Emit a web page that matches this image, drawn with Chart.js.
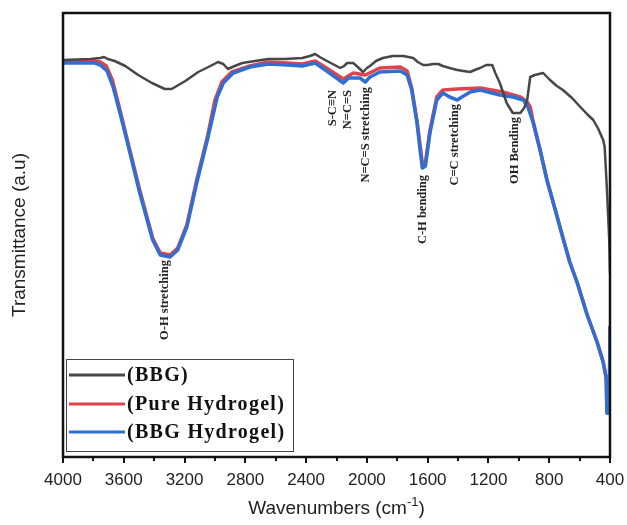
<!DOCTYPE html>
<html>
<head>
<meta charset="utf-8">
<script src="https://cdn.jsdelivr.net/npm/chart.js@4.4.1/dist/chart.umd.min.js"></script>
<style>
html, body { margin: 0; padding: 0; background: #fff; }
</style>
</head>
<body>
<canvas id="ftir" width="627" height="525"></canvas>
<script>
// FTIR spectra, values (wavenumber cm-1, transmittance a.u.)
const bbgWavenumbers = [4000, 3820, 3755, 3730, 3705, 3660, 3590, 3505, 3415, 3330, 3285, 3195, 3110, 3030, 2980, 2945, 2915, 2870, 2820, 2735, 2650, 2540, 2425, 2375, 2340, 2310, 2275, 2225, 2175, 2150, 2130, 2090, 2060, 2025, 2000, 1980, 1940, 1895, 1830, 1760, 1695, 1665, 1630, 1600, 1565, 1530, 1500, 1455, 1405, 1365, 1320, 1290, 1255, 1215, 1175, 1155, 1125, 1105, 1080, 1040, 990, 965, 945, 925, 895, 840, 795, 750, 710, 650, 595, 545, 510, 480, 445, 435, 420, 405, 400];
const bbgTransmittance = [99.25, 99.5, 99.75, 100, 99.5, 99, 97.75, 95.5, 93.5, 92, 92, 94, 96.25, 97.75, 98.75, 98.25, 97, 97.75, 98.5, 99, 99.5, 99.5, 99.75, 100.25, 100.75, 100, 99.25, 98.25, 97.25, 97.75, 98.5, 98.5, 97.5, 96.25, 97.25, 97.75, 99, 99.75, 100.25, 100.25, 99.75, 98.75, 98, 98, 98.25, 98.25, 97.75, 97.25, 96.75, 96.5, 96.25, 96.75, 97.25, 98, 98, 96, 93.5, 91.25, 88.5, 86, 86, 87.25, 89.25, 95, 95.5, 96, 94.25, 92.75, 91.75, 89.75, 87.5, 85.5, 84.25, 82.25, 79.25, 77.5, 66.75, 54.25, 46];

const pureWavenumbers = [4000, 3790, 3755, 3715, 3675, 3625, 3580, 3495, 3410, 3360, 3295, 3245, 3185, 3120, 3050, 3000, 2955, 2890, 2770, 2650, 2520, 2425, 2340, 2255, 2155, 2090, 2010, 1915, 1780, 1735, 1705, 1670, 1635, 1615, 1585, 1540, 1500, 1405, 1255, 1105, 990, 945, 925, 905, 860, 815, 760, 715, 665, 615, 550, 485, 445, 425, 420, 405, 400];
const pureTransmittance = [99, 99, 98.75, 97.75, 94.25, 86.75, 79.75, 66.75, 54.75, 51, 50.5, 52.25, 58, 69.25, 80, 89.25, 93.75, 96.25, 97.75, 98.75, 98.5, 98.25, 99, 97, 94.5, 96, 95.5, 97.25, 97.5, 96.5, 92.25, 84, 73.5, 73.5, 81.75, 90, 91.75, 92, 92.25, 91.25, 90, 88.75, 87.5, 83.75, 76.75, 69.25, 61.75, 55.5, 48.75, 43.5, 35.5, 28.75, 23.75, 19.75, 11, 11, 32.5];

const hydrogelWavenumbers = [4000, 3790, 3755, 3710, 3670, 3625, 3580, 3495, 3410, 3360, 3295, 3245, 3185, 3120, 3050, 2985, 2945, 2880, 2770, 2650, 2520, 2425, 2340, 2255, 2155, 2120, 2045, 2010, 1980, 1915, 1780, 1735, 1705, 1670, 1650, 1635, 1615, 1585, 1540, 1500, 1455, 1405, 1375, 1320, 1255, 1125, 1040, 970, 940, 905, 860, 815, 760, 715, 665, 615, 550, 485, 445, 425, 420, 405, 400];
const hydrogelTransmittance = [98.5, 98.5, 98, 96.5, 92.5, 86, 79.25, 66, 54.25, 50.5, 50, 51.75, 57.5, 68.5, 79.25, 90, 93.5, 96, 97.5, 98.25, 98, 97.75, 98.5, 96.25, 93.5, 94.75, 94.75, 93.75, 95, 96.25, 96.5, 95.5, 91.75, 83.5, 76.75, 72.25, 72.75, 81, 89.25, 91, 90, 89.25, 90, 91.25, 91.75, 90.5, 90, 89.25, 87.5, 83.5, 76.75, 69.25, 61.75, 55.5, 48.75, 43.5, 35.5, 28.75, 23.75, 19.75, 11, 11, 32.5];

const xTickValues = [4000, 3600, 3200, 2800, 2400, 2000, 1600, 1200, 800, 400];
const xMinorTickValues = [3800, 3400, 3000, 2600, 2200, 1800, 1400, 1000, 600];

const seriesNames = ['(BBG)', '(Pure Hydrogel)', '(BBG Hydrogel)'];
const seriesColors = ['#474747', '#e2434b', '#2f6fd2'];

// band assignments: label, wavenumber, transmittance where the text starts
const bandLabels = ['O-H stretching', 'S-C\u2261N', 'N=C=S', 'N=C=S stretching', 'C-H bending', 'C=C stretching', 'OH Bending'];
const bandWavenumbers = [3330, 2225, 2125, 2010, 1630, 1420, 1030];
const bandTops = [49.25, 91.75, 91.75, 92.5, 70.5, 88.25, 85];

const toPoints = (xs, ys) => xs.map((x, i) => ({ x: x, y: ys[i] }));

const decorations = {
    id: 'decorations',
    afterDraw(chart) {
        const ctx = chart.ctx;
        const area = chart.chartArea;
        const xs = chart.scales.x;
        const ys = chart.scales.y;
        ctx.save();

        // minor ticks
        ctx.strokeStyle = '#111';
        ctx.lineWidth = 2;
        xMinorTickValues.forEach(v => {
            const px = Math.round(xs.getPixelForValue(v));
            ctx.beginPath();
            ctx.moveTo(px, area.bottom);
            ctx.lineTo(px, area.bottom + 4);
            ctx.stroke();
        });

        // frame
        ctx.lineWidth = 2.5;
        ctx.strokeStyle = '#111';
        ctx.strokeRect(area.left, area.top, area.right - area.left, area.bottom - area.top);

        // band labels
        ctx.fillStyle = '#222';
        ctx.font = 'bold 12.5px "Liberation Serif", "DejaVu Serif", serif';
        ctx.textAlign = 'right';
        ctx.textBaseline = 'middle';
        bandLabels.forEach((t, i) => {
            ctx.save();
            ctx.translate(xs.getPixelForValue(bandWavenumbers[i]), ys.getPixelForValue(bandTops[i]));
            ctx.rotate(-Math.PI / 2);
            ctx.fillText(t, 0, 0);
            ctx.restore();
        });

        // legend
        ctx.lineWidth = 1;
        ctx.strokeStyle = '#444';
        ctx.strokeRect(66.5, 359.5, 227, 92);
        const rows = [375, 404, 432];
        ctx.font = 'bold 20px "Liberation Serif", serif';
        ctx.letterSpacing = '1.3px';
        ctx.textAlign = 'left';
        seriesNames.forEach((n, i) => {
            ctx.strokeStyle = seriesColors[i];
            ctx.lineWidth = 3;
            ctx.beginPath();
            ctx.moveTo(69, rows[i]);
            ctx.lineTo(125, rows[i]);
            ctx.stroke();
            ctx.fillStyle = '#111';
            ctx.fillText(n, 127, rows[i] + 1);
        });
        ctx.letterSpacing = '0px';

        // axis titles
        ctx.fillStyle = '#222';
        ctx.font = '19px "Liberation Sans", Arial, sans-serif';
        ctx.textAlign = 'center';
        ctx.save();
        ctx.translate(20, (area.top + area.bottom) / 2);
        ctx.rotate(-Math.PI / 2);
        ctx.fillText('Transmittance (a.u)', 0, 0);
        ctx.restore();

        const main = 'Wavenumbers (cm';
        const sup = '-1';
        ctx.textAlign = 'left';
        const wMain = ctx.measureText(main).width;
        const wClose = ctx.measureText(')').width;
        ctx.font = '13px "Liberation Sans", Arial, sans-serif';
        const wSup = ctx.measureText(sup).width;
        const cx = (area.left + area.right) / 2;
        let x0 = cx - (wMain + wSup + wClose) / 2;
        const yT = 509;
        ctx.font = '19px "Liberation Sans", Arial, sans-serif';
        ctx.fillText(main, x0, yT);
        ctx.font = '13px "Liberation Sans", Arial, sans-serif';
        ctx.fillText(sup, x0 + wMain, yT - 7);
        ctx.font = '19px "Liberation Sans", Arial, sans-serif';
        ctx.fillText(')', x0 + wMain + wSup, yT);
        ctx.restore();
    }
};

new Chart(document.getElementById('ftir'), {
    type: 'line',
    data: {
        datasets: [
            { label: seriesNames[0], data: toPoints(bbgWavenumbers, bbgTransmittance), borderColor: seriesColors[0], borderWidth: 2.5, order: 0 },
            { label: seriesNames[1], data: toPoints(pureWavenumbers, pureTransmittance), borderColor: seriesColors[1], borderWidth: 3.5, order: 2 },
            { label: seriesNames[2], data: toPoints(hydrogelWavenumbers, hydrogelTransmittance), borderColor: seriesColors[2], borderWidth: 3.5, order: 1 }
        ]
    },
    options: {
        responsive: false,
        animation: false,
        parsing: false,
        elements: { point: { radius: 0 }, line: { tension: 0, borderJoinStyle: 'round', borderCapStyle: 'round' } },
        layout: { padding: { left: 63, right: 17, top: 13, bottom: 0 } },
        scales: {
            x: {
                type: 'linear',
                reverse: true,
                min: 400,
                max: 4000,
                afterBuildTicks: axis => { axis.ticks = xTickValues.map(v => ({ value: v })); },
                afterFit: axis => {
                    axis.height = 68;
                    axis.paddingLeft = 0;
                    axis.paddingRight = 0;
                },
                grid: { drawOnChartArea: false, drawTicks: true, tickLength: 6, color: '#111', lineWidth: 2 },
                border: { display: false },
                ticks: {
                    padding: 7,
                    color: '#222',
                    autoSkip: false,
                    maxRotation: 0,
                    callback: v => String(v),
                    font: { family: '"Liberation Sans", Arial, sans-serif', size: 17 }
                }
            },
            y: { display: false, min: 0, max: 111 }
        },
        plugins: {
            legend: { display: false },
            tooltip: { enabled: false }
        }
    },
    plugins: [decorations]
});
</script>
</body>
</html>
